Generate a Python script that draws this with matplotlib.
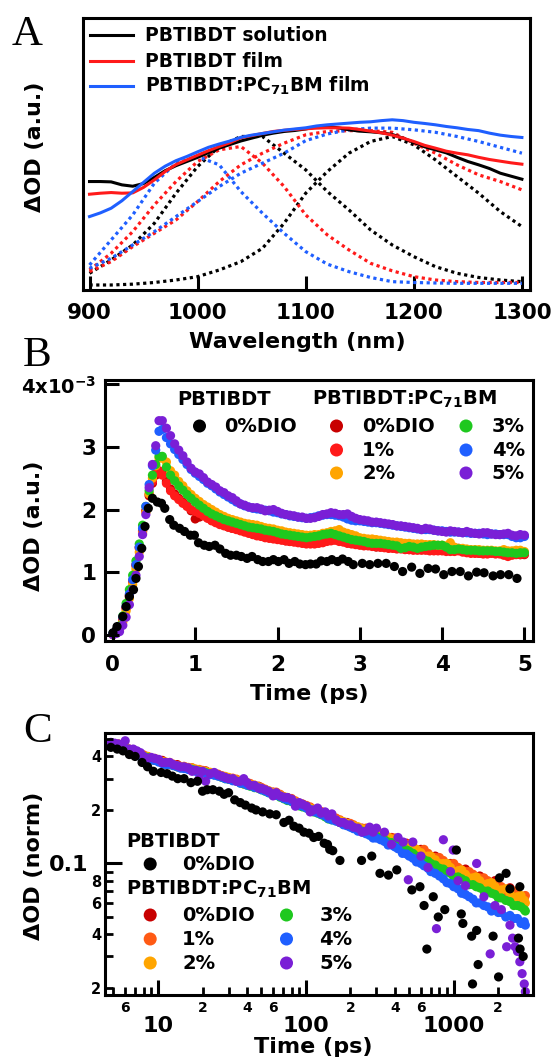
import matplotlib
matplotlib.use("Agg")
import matplotlib.pyplot as plt
from matplotlib.lines import Line2D
from matplotlib.ticker import FixedLocator, FixedFormatter

plt.rcParams['font.family'] = ['DejaVu Sans']
plt.rcParams['font.weight'] = 'bold'
plt.rcParams['mathtext.default'] = 'regular'
plt.rcParams['axes.linewidth'] = 2.2

# ---- panel A: spectra (normalised dOD) ----
wl10 = [900, 910, 920, 930, 940, 950, 960, 970, 980, 990, 1000, 1010, 1020, 1030, 1040,
        1050, 1060, 1070, 1080, 1090, 1100, 1110, 1120, 1130, 1140, 1150, 1160, 1170, 1180,
        1190, 1200, 1210, 1220, 1230, 1240, 1250, 1260, 1270, 1280, 1290, 1300]
sol_black = [0.650, 0.650, 0.648, 0.630, 0.622, 0.638, 0.675, 0.715, 0.745, 0.770, 0.795,
             0.823, 0.850, 0.872, 0.893, 0.910, 0.927, 0.940, 0.950, 0.956, 0.965, 0.978,
             0.980, 0.972, 0.960, 0.952, 0.948, 0.942, 0.932, 0.910, 0.885, 0.858, 0.840,
             0.822, 0.795, 0.770, 0.750, 0.728, 0.700, 0.682, 0.664]
film_red = [0.574, 0.580, 0.584, 0.580, 0.582, 0.615, 0.660, 0.710, 0.752, 0.780, 0.808,
            0.835, 0.860, 0.883, 0.912, 0.925, 0.938, 0.950, 0.957, 0.962, 0.966, 0.970,
            0.972, 0.972, 0.970, 0.962, 0.952, 0.942, 0.928, 0.910, 0.890, 0.867, 0.850,
            0.832, 0.820, 0.810, 0.795, 0.782, 0.772, 0.762, 0.754]
blend_blue = [0.440, 0.462, 0.490, 0.535, 0.590, 0.645, 0.700, 0.742, 0.775, 0.800, 0.828,
              0.855, 0.875, 0.893, 0.915, 0.928, 0.938, 0.948, 0.958, 0.965, 0.972, 0.983,
              0.990, 0.995, 1.000, 1.005, 1.008, 1.015, 1.020, 1.015, 1.005, 0.998, 0.990,
              0.980, 0.972, 0.962, 0.955, 0.940, 0.928, 0.920, 0.914]

wl20 = [900, 920, 940, 960, 980, 1000, 1020, 1040, 1060, 1080, 1100, 1120, 1140, 1160,
        1180, 1200, 1220, 1240, 1260, 1280, 1300]
fit_black_lo = [0.10, 0.18, 0.27, 0.40, 0.58, 0.74, 0.86, 0.92, 0.92, 0.82, 0.72, 0.59, 0.48,
                0.36, 0.27, 0.20, 0.14, 0.10, 0.075, 0.06, 0.05]
fit_black_hi = [0.03, 0.03, 0.035, 0.045, 0.06, 0.08, 0.12, 0.17, 0.25, 0.40, 0.58, 0.71, 0.82,
                0.89, 0.92, 0.87, 0.78, 0.68, 0.58, 0.47, 0.38]
fit_red_lo = [0.12, 0.22, 0.35, 0.51, 0.65, 0.77, 0.84, 0.86, 0.76, 0.62, 0.45, 0.33, 0.24,
              0.16, 0.115, 0.08, 0.06, 0.05, 0.045, 0.045, 0.045]
fit_red_hi = [0.11, 0.17, 0.26, 0.34, 0.42, 0.53, 0.65, 0.75, 0.82, 0.88, 0.93, 0.95, 0.955,
              0.955, 0.945, 0.88, 0.82, 0.75, 0.69, 0.65, 0.60]
fit_blue_lo = [0.15, 0.30, 0.45, 0.64, 0.76, 0.80, 0.75, 0.59, 0.46, 0.34, 0.23, 0.155, 0.11,
               0.075, 0.05, 0.045, 0.042, 0.04, 0.04, 0.04, 0.04]
fit_blue_hi = [0.13, 0.19, 0.27, 0.35, 0.44, 0.53, 0.62, 0.70, 0.76, 0.82, 0.895, 0.935, 0.96,
               0.97, 0.97, 0.96, 0.945, 0.92, 0.89, 0.855, 0.82]
legend_a = ["PBTIBDT solution", "PBTIBDT film", "PBTIBDT:PC$_{71}$BM film"]

# ---- panel B: kinetics 0-5 ps (x1e-3) ----
t_rise = [0.0, 0.04, 0.08, 0.12, 0.16, 0.20, 0.24, 0.28, 0.32, 0.36, 0.40, 0.44, 0.48, 0.52, 0.56]
t_decay = [0.6, 0.7, 0.8, 0.9, 1.0, 1.1, 1.2, 1.3, 1.4, 1.5, 1.6, 1.7, 1.8, 1.9, 2.0, 2.1, 2.2,
           2.3, 2.4, 2.5, 2.6, 2.7, 2.8, 2.9, 3.0, 3.1, 3.2, 3.3, 3.4, 3.5, 3.6, 3.7, 3.8, 3.9,
           4.0, 4.1, 4.2, 4.3, 4.4, 4.5, 4.6, 4.7, 4.8, 4.9, 5.0]
t_mid = [0.65, 0.75, 0.85, 0.95, 1.05, 1.15, 1.25, 1.35, 1.45, 1.55, 1.65, 1.75, 1.85, 1.95,
         2.05, 2.15, 2.25, 2.35, 2.45, 2.55, 2.65, 2.75, 2.85, 2.95, 3.05, 3.15, 3.25, 3.35,
         3.45, 3.55, 3.65, 3.75, 3.85, 3.95, 4.05, 4.15, 4.25, 4.35, 4.45, 4.55, 4.65, 4.75,
         4.85, 4.95]
tB = t_rise + t_decay + t_mid

b_darkred = [0.01, 0.04, 0.10, 0.25, 0.43, 0.63, 0.86, 1.12, 1.40, 1.66, 1.98, 2.22, 2.42, 2.55, 2.60,
             2.58, 2.33, 2.18, 2.06, 1.85, 1.91, 1.83, 1.77, 1.72, 1.69, 1.65, 1.61, 1.58, 1.55, 1.53,
             1.50, 1.49, 1.47, 1.46, 1.47, 1.50, 1.52, 1.49, 1.46, 1.44, 1.43, 1.40, 1.40, 1.39, 1.38,
             1.36, 1.36, 1.36, 1.35, 1.35, 1.36, 1.38, 1.33, 1.31, 1.30, 1.31, 1.30, 1.31, 1.29, 1.28,
             2.45, 2.25, 2.12, 1.98, 1.88, 1.87, 1.80, 1.75, 1.70, 1.67, 1.63, 1.59, 1.56, 1.54, 1.52,
             1.49, 1.48, 1.46, 1.46, 1.48, 1.51, 1.50, 1.47, 1.45, 1.43, 1.42, 1.40, 1.39, 1.38, 1.37,
             1.36, 1.36, 1.35, 1.35, 1.35, 1.37, 1.35, 1.32, 1.30, 1.30, 1.31, 1.30, 1.30, 1.28]
b_red = [0.01, 0.04, 0.10, 0.24, 0.42, 0.62, 0.85, 1.10, 1.38, 1.65, 1.98, 2.25, 2.45, 2.58, 2.62,
         2.55, 2.30, 2.16, 2.05, 1.97, 1.90, 1.82, 1.76, 1.72, 1.68, 1.64, 1.60, 1.57, 1.54, 1.52,
         1.50, 1.48, 1.46, 1.45, 1.46, 1.49, 1.51, 1.48, 1.45, 1.43, 1.42, 1.41, 1.39, 1.38, 1.37,
         1.36, 1.35, 1.35, 1.34, 1.34, 1.33, 1.34, 1.31, 1.30, 1.29, 1.30, 1.29, 1.25, 1.28, 1.29,
         2.42, 2.22, 2.10, 2.00, 1.94, 1.86, 1.79, 1.74, 1.70, 1.66, 1.62, 1.58, 1.55, 1.53, 1.51,
         1.49, 1.47, 1.45, 1.45, 1.47, 1.50, 1.49, 1.46, 1.44, 1.42, 1.41, 1.40, 1.38, 1.37, 1.36,
         1.35, 1.35, 1.34, 1.34, 1.33, 1.33, 1.32, 1.30, 1.30, 1.29, 1.29, 1.27, 1.27, 1.28]
b_orange = [0.0, 0.03, 0.08, 0.20, 0.38, 0.58, 0.80, 1.05, 1.32, 1.62, 1.95, 2.25, 2.50, 2.70, 2.82,
            2.82, 2.62, 2.45, 2.30, 2.18, 2.08, 2.00, 1.92, 1.86, 1.82, 1.78, 1.76, 1.73, 1.70, 1.67,
            1.64, 1.62, 1.60, 1.59, 1.60, 1.63, 1.66, 1.64, 1.60, 1.55, 1.53, 1.52, 1.50, 1.48, 1.47,
            1.46, 1.45, 1.44, 1.44, 1.43, 1.47, 1.38, 1.37, 1.36, 1.35, 1.35, 1.34, 1.34, 1.35, 1.33,
            2.76, 2.55, 2.38, 2.24, 2.13, 2.04, 1.96, 1.89, 1.84, 1.80, 1.77, 1.75, 1.71, 1.69, 1.66,
            1.63, 1.61, 1.59, 1.60, 1.62, 1.65, 1.68, 1.62, 1.58, 1.54, 1.53, 1.51, 1.49, 1.48, 1.46,
            1.45, 1.45, 1.44, 1.43, 1.42, 1.40, 1.38, 1.36, 1.36, 1.35, 1.34, 1.36, 1.34, 1.35]
b_green = [0.02, 0.06, 0.14, 0.30, 0.50, 0.72, 0.95, 1.18, 1.45, 1.75, 2.05, 2.30, 2.55, 2.72, 2.85,
           2.85, 2.55, 2.38, 2.24, 2.12, 2.02, 1.93, 1.87, 1.82, 1.78, 1.74, 1.71, 1.69, 1.66, 1.63,
           1.60, 1.58, 1.56, 1.56, 1.58, 1.61, 1.60, 1.56, 1.52, 1.50, 1.47, 1.46, 1.45, 1.43, 1.38,
           1.41, 1.38, 1.41, 1.43, 1.43, 1.36, 1.37, 1.35, 1.35, 1.34, 1.34, 1.33, 1.31, 1.30, 1.31,
           2.68, 2.46, 2.31, 2.18, 2.07, 1.97, 1.90, 1.84, 1.80, 1.76, 1.72, 1.70, 1.67, 1.65, 1.61,
           1.59, 1.57, 1.55, 1.57, 1.60, 1.62, 1.58, 1.54, 1.51, 1.49, 1.46, 1.46, 1.44, 1.42, 1.39,
           1.40, 1.40, 1.42, 1.43, 1.40, 1.36, 1.36, 1.35, 1.34, 1.34, 1.33, 1.32, 1.31, 1.31]
b_blue = [0.02, 0.05, 0.12, 0.28, 0.45, 0.65, 0.88, 1.12, 1.40, 1.70, 2.05, 2.40, 2.70, 2.95, 3.25,
          3.28, 3.05, 2.88, 2.72, 2.58, 2.48, 2.38, 2.28, 2.20, 2.12, 2.06, 2.02, 2.00, 1.98, 1.95,
          1.92, 1.89, 1.87, 1.87, 1.90, 1.92, 1.91, 1.88, 1.83, 1.82, 1.80, 1.79, 1.77, 1.75, 1.73,
          1.71, 1.69, 1.68, 1.67, 1.66, 1.64, 1.64, 1.63, 1.62, 1.61, 1.61, 1.60, 1.60, 1.55, 1.57,
          3.15, 2.96, 2.80, 2.64, 2.53, 2.42, 2.33, 2.24, 2.16, 2.09, 2.04, 2.01, 1.99, 1.96, 1.93,
          1.90, 1.88, 1.86, 1.88, 1.91, 1.92, 1.90, 1.85, 1.82, 1.81, 1.79, 1.78, 1.76, 1.74, 1.72,
          1.70, 1.68, 1.68, 1.66, 1.65, 1.64, 1.63, 1.62, 1.62, 1.60, 1.61, 1.60, 1.57, 1.55]
b_purple = [0.0, 0.02, 0.05, 0.15, 0.28, 0.48, 0.72, 0.95, 1.25, 1.60, 1.92, 2.35, 2.72, 3.02, 3.42,
            3.42, 3.18, 2.95, 2.76, 2.60, 2.51, 2.40, 2.30, 2.22, 2.14, 2.07, 2.03, 2.01, 1.99, 1.97,
            1.92, 1.90, 1.88, 1.86, 1.89, 1.93, 1.94, 1.92, 1.89, 1.84, 1.82, 1.80, 1.78, 1.76, 1.74,
            1.72, 1.70, 1.70, 1.67, 1.65, 1.66, 1.64, 1.65, 1.62, 1.63, 1.61, 1.60, 1.62, 1.58, 1.59,
            3.30, 3.05, 2.86, 2.66, 2.57, 2.44, 2.36, 2.27, 2.19, 2.09, 2.04, 2.03, 1.98, 2.00, 1.94,
            1.91, 1.88, 1.86, 1.87, 1.92, 1.95, 1.92, 1.93, 1.86, 1.83, 1.80, 1.79, 1.77, 1.74, 1.73,
            1.71, 1.68, 1.69, 1.66, 1.64, 1.65, 1.63, 1.63, 1.61, 1.63, 1.60, 1.61, 1.59, 1.60]

tB_black = [0.0, 0.05, 0.12, 0.16, 0.2, 0.25, 0.28, 0.31, 0.35, 0.39, 0.43, 0.48, 0.54, 0.59, 0.63,
            0.69, 0.74, 0.81, 0.87, 0.94, 0.99, 1.04, 1.11, 1.17, 1.24, 1.30, 1.37, 1.43, 1.50, 1.56,
            1.63, 1.69, 1.76, 1.82, 1.89, 1.95, 2.01, 2.08, 2.14, 2.21, 2.27, 2.34, 2.40, 2.47, 2.53,
            2.60, 2.66, 2.73, 2.79, 2.86, 2.92, 3.03, 3.12, 3.22, 3.32, 3.42, 3.52, 3.63, 3.73, 3.83,
            3.92, 4.02, 4.12, 4.22, 4.32, 4.42, 4.51, 4.62, 4.71, 4.81, 4.91]
b_black = [0.03, 0.13, 0.29, 0.45, 0.61, 0.72, 0.90, 1.09, 1.38, 1.73, 2.02, 2.18, 2.12, 2.10, 2.02,
           1.84, 1.75, 1.70, 1.65, 1.59, 1.59, 1.47, 1.43, 1.41, 1.43, 1.37, 1.30, 1.27, 1.27, 1.25,
           1.22, 1.25, 1.20, 1.17, 1.17, 1.20, 1.17, 1.20, 1.14, 1.17, 1.13, 1.12, 1.13, 1.13, 1.18,
           1.17, 1.20, 1.17, 1.21, 1.17, 1.12, 1.14, 1.12, 1.14, 1.14, 1.09, 1.01, 1.08, 0.98, 1.06,
           1.05, 0.96, 1.01, 1.01, 0.94, 1.00, 0.99, 0.94, 0.96, 0.96, 0.90]

# ---- panel C: normalised kinetics, log-log ----
tC_a = [4.8, 5.4, 6.0, 6.8, 7.6, 8.5, 9.5, 10.7, 12, 13.5, 15, 17, 19, 21, 24, 27, 30, 34, 38, 42,
        48, 53, 60, 67, 75, 85, 95, 107, 120, 135, 150, 170, 190, 210, 240, 270, 300, 340, 380, 420,
        480, 530, 600, 670, 750, 850, 950, 1070, 1200, 1350, 1500, 1700, 1900, 2100, 2400, 2700, 3000]
tC_b = [5.1, 5.7, 6.4, 7.2, 8.0, 9.0, 10.1, 11.3, 12.7, 14.2, 16, 18, 20, 22.5, 25.5, 28.5, 32, 36,
        40, 45, 50, 56, 63, 71, 80, 90, 101, 113, 127, 142, 160, 180, 200, 225, 255, 285, 320, 360,
        400, 450, 500, 560, 630, 700, 800, 900, 1000, 1130, 1270, 1420, 1600, 1800, 2000, 2250, 2550,
        2850, 3050]
tC = tC_a + tC_b

c_darkred = [0.47, 0.47, 0.45, 0.435, 0.405, 0.40, 0.38, 0.38, 0.36, 0.36, 0.345, 0.345, 0.33, 0.332,
             0.318, 0.308, 0.303, 0.292, 0.288, 0.275, 0.272, 0.258, 0.252, 0.24, 0.235, 0.22, 0.216,
             0.203, 0.199, 0.186, 0.182, 0.172, 0.17, 0.161, 0.158, 0.15, 0.149, 0.141, 0.14, 0.131,
             0.13, 0.122, 0.12, 0.11, 0.11, 0.1, 0.1, 0.092, 0.093, 0.085, 0.085, 0.078, 0.08, 0.072,
             0.073, 0.066, 0.065]
c_orangered = [0.475, 0.465, 0.455, 0.425, 0.415, 0.395, 0.39, 0.37, 0.37, 0.35, 0.352, 0.34, 0.338,
               0.328, 0.322, 0.312, 0.30, 0.298, 0.28, 0.282, 0.268, 0.262, 0.248, 0.245, 0.228, 0.225,
               0.21, 0.208, 0.195, 0.19, 0.178, 0.176, 0.165, 0.165, 0.155, 0.154, 0.146, 0.144, 0.139,
               0.136, 0.128, 0.125, 0.118, 0.114, 0.108, 0.104, 0.099, 0.095, 0.09, 0.087, 0.083, 0.08,
               0.077, 0.074, 0.07, 0.067, 0.064,
               0.47, 0.45, 0.44, 0.42, 0.408, 0.388, 0.382, 0.368, 0.362, 0.348, 0.347, 0.336, 0.334,
               0.322, 0.318, 0.305, 0.302, 0.288, 0.285, 0.27, 0.268, 0.255, 0.252, 0.236, 0.232, 0.216,
               0.212, 0.198, 0.196, 0.183, 0.18, 0.168, 0.168, 0.158, 0.158, 0.148, 0.148, 0.138, 0.139,
               0.128, 0.129, 0.118, 0.12, 0.108, 0.108, 0.098, 0.1, 0.09, 0.09, 0.082, 0.083, 0.075,
               0.076, 0.069, 0.07, 0.064, 0.066]
c_orange = [0.47, 0.46, 0.45, 0.43, 0.41, 0.40, 0.385, 0.375, 0.365, 0.355, 0.35, 0.345, 0.335, 0.33,
            0.32, 0.31, 0.305, 0.295, 0.285, 0.278, 0.27, 0.26, 0.25, 0.242, 0.232, 0.222, 0.214, 0.205,
            0.197, 0.188, 0.18, 0.174, 0.168, 0.163, 0.157, 0.152, 0.148, 0.142, 0.137, 0.132, 0.125,
            0.121, 0.115, 0.11, 0.105, 0.10, 0.095, 0.091, 0.087, 0.083, 0.08, 0.077, 0.074, 0.071,
            0.068, 0.065, 0.062,
            0.462, 0.455, 0.435, 0.425, 0.402, 0.392, 0.38, 0.372, 0.356, 0.352, 0.343, 0.34, 0.33,
            0.326, 0.313, 0.309, 0.298, 0.292, 0.28, 0.276, 0.264, 0.257, 0.245, 0.238, 0.226, 0.219,
            0.208, 0.202, 0.19, 0.186, 0.176, 0.172, 0.164, 0.161, 0.153, 0.151, 0.143, 0.141, 0.132,
            0.13, 0.122, 0.12, 0.11, 0.11, 0.1, 0.1, 0.09, 0.092, 0.083, 0.084, 0.076, 0.078, 0.07,
            0.072, 0.064, 0.066, 0.06]
c_green = [0.465, 0.455, 0.445, 0.43, 0.405, 0.395, 0.38, 0.37, 0.36, 0.35, 0.345, 0.338, 0.33, 0.325,
           0.315, 0.305, 0.298, 0.29, 0.28, 0.272, 0.264, 0.255, 0.245, 0.236, 0.226, 0.217, 0.208, 0.2,
           0.192, 0.183, 0.176, 0.17, 0.164, 0.158, 0.152, 0.147, 0.142, 0.136, 0.131, 0.126, 0.119,
           0.114, 0.108, 0.103, 0.098, 0.093, 0.088, 0.084, 0.08, 0.076, 0.073, 0.07, 0.067, 0.064,
           0.061, 0.058, 0.055,
           0.458, 0.45, 0.438, 0.418, 0.40, 0.385, 0.375, 0.362, 0.357, 0.345, 0.342, 0.333, 0.328,
           0.318, 0.311, 0.30, 0.294, 0.284, 0.276, 0.267, 0.26, 0.25, 0.242, 0.231, 0.223, 0.211,
           0.205, 0.195, 0.188, 0.178, 0.174, 0.166, 0.161, 0.154, 0.149, 0.143, 0.139, 0.132, 0.128,
           0.121, 0.117, 0.11, 0.105, 0.1, 0.094, 0.09, 0.084, 0.082, 0.076, 0.074, 0.07, 0.068,
           0.064, 0.062, 0.058, 0.057, 0.054]
c_blue = [0.46, 0.455, 0.44, 0.425, 0.40, 0.39, 0.38, 0.365, 0.36, 0.35, 0.342, 0.336, 0.33, 0.322,
          0.314, 0.306, 0.298, 0.29, 0.282, 0.274, 0.266, 0.256, 0.246, 0.238, 0.228, 0.219, 0.21, 0.201,
          0.193, 0.185, 0.176, 0.17, 0.163, 0.157, 0.15, 0.144, 0.139, 0.133, 0.127, 0.121, 0.113, 0.107,
          0.1, 0.094, 0.088, 0.082, 0.077, 0.072, 0.067, 0.063, 0.06, 0.057, 0.055, 0.053, 0.051, 0.049,
          0.047,
          0.455, 0.448, 0.432, 0.412, 0.398, 0.382, 0.372, 0.36, 0.355, 0.344, 0.338, 0.33, 0.326,
          0.316, 0.31, 0.3, 0.292, 0.283, 0.276, 0.268, 0.26, 0.25, 0.242, 0.232, 0.224, 0.213, 0.205,
          0.196, 0.189, 0.179, 0.173, 0.165, 0.16, 0.152, 0.147, 0.139, 0.136, 0.127, 0.124, 0.114,
          0.11, 0.102, 0.097, 0.09, 0.085, 0.078, 0.074, 0.068, 0.065, 0.06, 0.058, 0.054, 0.053,
          0.05, 0.049, 0.046, 0.045]
tC_purple = [4.8, 5.4, 6.0, 6.8, 7.6, 8.5, 9.5, 10.7, 12, 13.5, 15, 17, 19, 21, 24, 27, 30, 34, 38,
             42, 48, 53, 60, 67, 75, 85, 95, 107, 120, 135, 150, 170, 190, 210, 240, 270,
             300, 340, 380, 420, 455, 493, 529, 600, 670, 764, 851, 950, 991, 1070, 1200, 1429, 1600,
             1764, 1900, 2100, 2280, 2400, 2500, 2600, 2700, 2800, 2900, 3000, 3050,
             5.1, 5.7, 6.4, 7.2, 8.0, 9.0, 10.1, 11.3, 12.7, 14.2, 16, 18, 20, 22.5, 25.5, 28.5, 32,
             36, 40, 45, 50, 56, 63, 71, 80, 90, 101, 113, 127, 142, 160, 180, 200, 225, 255, 285]
c_purple = [0.48, 0.47, 0.49, 0.44, 0.42, 0.39, 0.39, 0.37, 0.37, 0.355, 0.35, 0.33, 0.30, 0.29, 0.325,
            0.31, 0.30, 0.29, 0.30, 0.275, 0.265, 0.26, 0.24, 0.24, 0.235, 0.21, 0.215, 0.195, 0.205,
            0.195, 0.19, 0.17, 0.165, 0.16, 0.15, 0.16,
            0.158, 0.15, 0.128, 0.14, 0.132, 0.081, 0.132, 0.11, 0.095, 0.043, 0.136, 0.09, 0.119,
            0.08, 0.075, 0.10, 0.065, 0.031, 0.058, 0.055, 0.034, 0.045, 0.038, 0.034, 0.032, 0.028,
            0.024, 0.021, 0.019,
            0.475, 0.46, 0.44, 0.43, 0.40, 0.395, 0.385, 0.37, 0.36, 0.35, 0.345, 0.335, 0.33, 0.32,
            0.315, 0.305, 0.30, 0.29, 0.285, 0.275, 0.265, 0.255, 0.25, 0.236, 0.23, 0.22, 0.21, 0.2,
            0.192, 0.185, 0.176, 0.17, 0.165, 0.158, 0.152, 0.15]
tC_black = [4.8, 5.3, 5.8, 6.4, 7.0, 7.8, 8.5, 9.3, 10.5, 11.5, 12.5, 13.6, 15, 16.7, 18.5, 20, 21.5,
            23.5, 26, 28, 30, 33, 36, 39, 43, 46, 51, 57, 63, 71, 77, 83, 90, 97, 105, 113, 122, 133,
            140, 145, 152,
            170, 238, 279, 317, 362, 412, 521, 591, 630, 658, 727, 786, 870, 1042, 1125, 1153, 1322,
            1340, 1429, 1462, 1846, 2010, 2040, 2260, 2400, 2740, 2800, 2810, 2950]
c_black = [0.45, 0.44, 0.43, 0.41, 0.40, 0.37, 0.35, 0.33, 0.325, 0.32, 0.31, 0.30, 0.30, 0.285, 0.29,
           0.255, 0.26, 0.26, 0.255, 0.245, 0.25, 0.228, 0.22, 0.213, 0.205, 0.20, 0.195, 0.19, 0.188,
           0.17, 0.175, 0.162, 0.158, 0.15, 0.148, 0.14, 0.142, 0.13, 0.128, 0.12, 0.118,
           0.104, 0.104, 0.11, 0.088, 0.086, 0.092, 0.071, 0.074, 0.058, 0.033, 0.065, 0.05, 0.055,
           0.119, 0.052, 0.046, 0.039, 0.021, 0.042, 0.027, 0.039, 0.023, 0.083, 0.088, 0.072, 0.038,
           0.074, 0.033, 0.030]

xC_major = [10, 100, 1000]
xC_major_labels = ["10", "100", "1000"]
xC_minor = [5, 6, 7, 8, 9, 20, 30, 40, 50, 60, 70, 80, 90, 200, 300, 400, 500, 600, 700, 800, 900,
            2000, 3000]
xC_minor_labels = ["", "6", "", "", "", "2", "", "4", "", "6", "", "", "", "2", "", "4", "", "6", "",
                   "", "", "2", ""]
yC_major = [0.1]
yC_major_labels = ["0.1"]
yC_minor = [0.02, 0.03, 0.04, 0.05, 0.06, 0.07, 0.08, 0.09, 0.2, 0.3, 0.4, 0.5]
yC_minor_labels = ["2", "", "4", "", "6", "", "8", "", "2", "", "4", ""]

legend_b_left = ["0%DIO"]
legend_b_right = ["0%DIO", "1%", "2%", "3%", "4%", "5%"]

# colours
BLK = "black"
DRED = "#c80000"
RED = "#ff1a1a"
ORB = "#ffa500"
ORC1 = "#ff5a14"
GRN = "#1ec81e"
BLU = "#1f5fff"
PUR = "#7a1fd6"

W, H = 554, 1063


def fx(x):
    return x / W


def fy(y):
    return 1 - y / H


fig = plt.figure(figsize=(W / 100, H / 100), dpi=100)

# ================= panel A =================
axA = fig.add_axes([82.7 / W, 1 - 290 / H, 447 / W, 272 / H])
dot = (0, (1, 1.1))
for vals, c in [(fit_black_lo, BLK), (fit_black_hi, BLK), (fit_red_lo, RED), (fit_red_hi, RED),
                (fit_blue_lo, BLU), (fit_blue_hi, BLU)]:
    axA.plot(wl20, vals, color=c, lw=2.3, linestyle=dot)
axA.plot(wl10, sol_black, color=BLK, lw=2.2)
axA.plot(wl10, film_red, color=RED, lw=2.2)
axA.plot(wl10, blend_blue, color=BLU, lw=2.2)
axA.set_xlim(893.7, 1307.2)
axA.set_ylim(0, 1.63)
axA.set_yticks([])
axA.set_xticks([900, 1000, 1100, 1200, 1300])
axA.tick_params(axis='x', direction='in', length=10, width=2.2, pad=9, labelsize=15.5)

for (y, c, lab) in zip([35, 61, 86], [BLK, RED, BLU], legend_a):
    fig.add_artist(Line2D([fx(89.5), fx(133)], [fy(y), fy(y)], color=c, lw=2.2))
    fig.text(fx(144.8), fy(y + 6), lab, fontsize=13.5, va='baseline')

fig.text(fx(297), fy(348), "Wavelength (nm)", fontsize=16, ha='center', va='baseline')
fig.text(fx(35), fy(147), "\u0394OD (a.u.)", fontsize=16, rotation=90, ha='center', va='center')

# ================= panel B =================
axB = fig.add_axes([104.7 / W, 1 - 641 / H, 428.5 / W, 261 / H])
ms = 44
for vals, c in [(b_darkred, DRED), (b_red, RED), (b_orange, ORB), (b_green, GRN),
                (b_blue, BLU), (b_purple, PUR)]:
    axB.scatter(tB, vals, s=ms, color=c, edgecolors='none')
axB.scatter(tB_black, b_black, s=ms, color=BLK, edgecolors='none')
axB.set_xlim(-0.1, 5.107)
axB.set_ylim(-0.1, 4.07)
axB.set_xticks([0, 1, 2, 3, 4, 5])
axB.set_yticks([0, 1, 2, 3, 4])
axB.set_yticklabels(["0", "1", "2", "3", "4x10$^{-3}$"])
axB.tick_params(axis='x', direction='in', length=10, width=2.2, pad=10, labelsize=15.5)
axB.tick_params(axis='y', direction='in', length=10, width=2.2, pad=6, labelsize=15.5)
axB.get_yticklabels()[-1].set_fontsize(14)

fig.text(fx(223.7), fy(405), "PBTIBDT", fontsize=14, ha='center', va='baseline')
fig.text(fx(312.4), fy(405), "PBTIBDT:PC$_{71}$BM", fontsize=14, ha='left', va='baseline')
leg_ms = 88
axB.scatter([fx(199.5)], [fy(426)], s=leg_ms, color=BLK, edgecolors='none',
            transform=fig.transFigure, clip_on=False)
fig.text(fx(224.4), fy(432), legend_b_left[0], fontsize=14, va='baseline')
for (xm, y, c, lab) in zip([336.5, 336.5, 336.5, 466, 466, 466], [426, 450, 473, 426, 450, 473],
                           [DRED, RED, ORB, GRN, BLU, PUR], legend_b_right):
    axB.scatter([fx(xm)], [fy(y)], s=leg_ms, color=c, edgecolors='none',
                transform=fig.transFigure, clip_on=False)
    fig.text(fx(xm + 25.6), fy(y + 6), lab, fontsize=14, va='baseline')

fig.text(fx(309), fy(700), "Time (ps)", fontsize=16, ha='center', va='baseline')
fig.text(fx(34), fy(526), "\u0394OD (a.u.)", fontsize=16, rotation=90, ha='center', va='center')

# ================= panel C =================
axC = fig.add_axes([104.7 / W, 1 - 995 / H, 427.8 / W, 262 / H])
axC.scatter(tC_a, c_darkred, s=ms, color=DRED, edgecolors='none')
for vals, c in [(c_orangered, ORC1), (c_orange, ORB), (c_green, GRN), (c_blue, BLU)]:
    axC.scatter(tC, vals, s=ms, color=c, edgecolors='none')
axC.scatter(tC_purple, c_purple, s=ms, color=PUR, edgecolors='none')
axC.scatter(tC_black, c_black, s=ms, color=BLK, edgecolors='none')
axC.set_xscale('log')
axC.set_yscale('log')
axC.set_xlim(4.36, 3410)
axC.set_ylim(0.0182, 0.542)
axC.xaxis.set_major_locator(FixedLocator(xC_major))
axC.xaxis.set_major_formatter(FixedFormatter(xC_major_labels))
axC.xaxis.set_minor_locator(FixedLocator(xC_minor))
axC.xaxis.set_minor_formatter(FixedFormatter(xC_minor_labels))
axC.yaxis.set_major_locator(FixedLocator(yC_major))
axC.yaxis.set_major_formatter(FixedFormatter(yC_major_labels))
axC.yaxis.set_minor_locator(FixedLocator(yC_minor))
axC.yaxis.set_minor_formatter(FixedFormatter(yC_minor_labels))
axC.tick_params(axis='x', which='major', direction='in', length=11, width=2.2, pad=15, labelsize=16)
axC.tick_params(axis='x', which='minor', direction='in', length=6, width=2, pad=4, labelsize=10)
axC.tick_params(axis='y', which='major', direction='in', length=12, width=2.2, pad=12, labelsize=16)
axC.tick_params(axis='y', which='minor', direction='in', length=6, width=2, pad=2.5, labelsize=10.5)

fig.text(fx(126), fy(847), "PBTIBDT", fontsize=14, va='baseline')
axC.scatter([fx(150.2)], [fy(864)], s=leg_ms, color=BLK, edgecolors='none',
            transform=fig.transFigure, clip_on=False)
fig.text(fx(182), fy(870), "0%DIO", fontsize=14, va='baseline')
fig.text(fx(126), fy(895), "PBTIBDT:PC$_{71}$BM", fontsize=14, va='baseline')
for (xm, xt, y, c, lab) in zip([150.2, 150.2, 150.2, 286.5, 286.5, 286.5],
                               [182, 182, 182, 319.5, 319.5, 319.5],
                               [915, 939, 963, 915, 939, 963],
                               [DRED, ORC1, ORB, GRN, BLU, PUR], legend_b_right):
    axC.scatter([fx(xm)], [fy(y)], s=leg_ms, color=c, edgecolors='none',
                transform=fig.transFigure, clip_on=False)
    fig.text(fx(xt), fy(y + 6), lab, fontsize=14, va='baseline')

fig.text(fx(313), fy(1053), "Time (ps)", fontsize=16, ha='center', va='baseline')
fig.text(fx(34), fy(866), "\u0394OD (norm)", fontsize=16, rotation=90, ha='center', va='center')

# panel letters
for (x, y, s) in [(12, 45, "A"), (23, 366, "B"), (23, 742, "C")]:
    fig.text(fx(x), fy(y), s, fontsize=31, family='Liberation Serif', fontweight='normal',
             va='baseline')

fig.savefig("out.png", dpi=100)
